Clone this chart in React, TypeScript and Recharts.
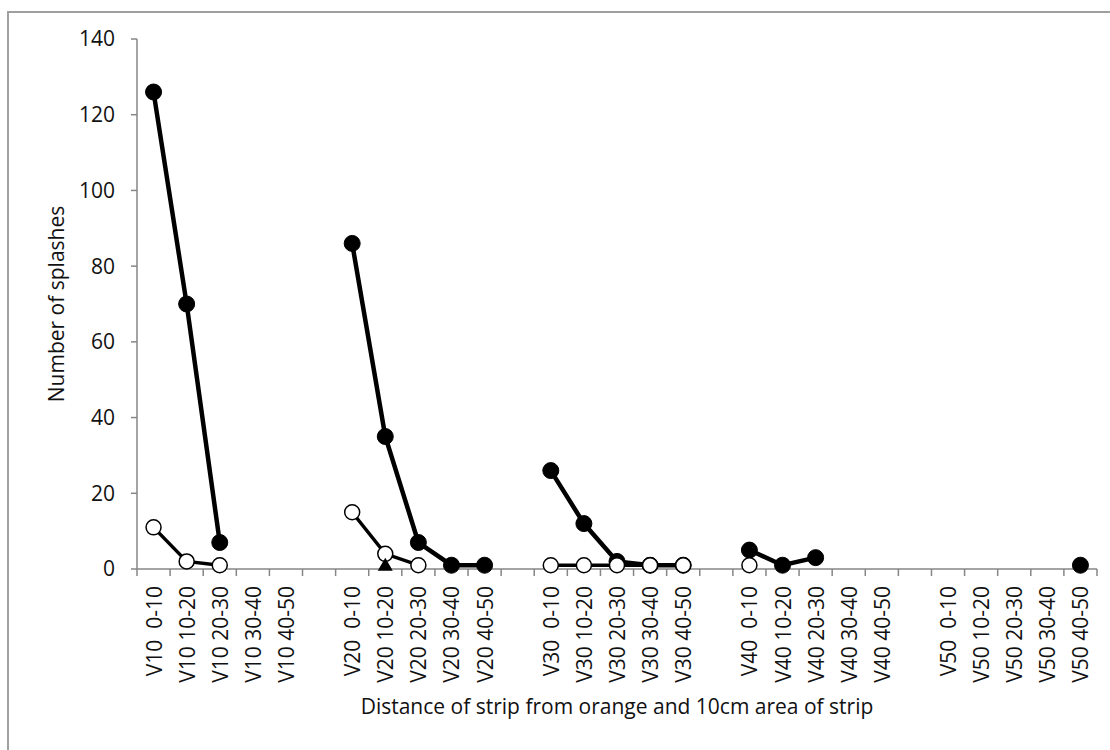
import { LineChart, Line, XAxis, YAxis } from "recharts"

const CATEGORIES = [
  "V10  0-10", "V10 10-20", "V10 20-30", "V10 30-40", "V10 40-50", "",
  "V20  0-10", "V20 10-20", "V20 20-30", "V20 30-40", "V20 40-50", "",
  "V30  0-10", "V30 10-20", "V30 20-30", "V30 30-40", "V30 40-50", "",
  "V40  0-10", "V40 10-20", "V40 20-30", "V40 30-40", "V40 40-50", "",
  "V50  0-10", "V50 10-20", "V50 20-30", "V50 30-40", "V50 40-50",
]

const FILLED = [
  126, 70, 7, null, null, null,
  86, 35, 7, 1, 1, null,
  26, 12, 2, 1, 1, null,
  5, 1, 3, null, null, null,
  null, null, null, null, 1,
]

const OPEN = [
  11, 2, 1, null, null, null,
  15, 4, 1, null, null, null,
  1, 1, 1, 1, 1, null,
  1, null, null, null, null, null,
  null, null, null, null, null,
]

const TRIANGLE = [
  null, null, null, null, null, null,
  null, 1, null, null, null, null,
  null, null, null, null, null, null,
  null, null, null, null, null, null,
  null, null, null, null, null,
]

const Y_TICKS = [0, 20, 40, 60, 80, 100, 120, 140]

const data = CATEGORIES.map((c, i) => ({
  pos: i + 0.5,
  label: c,
  filled: FILLED[i],
  open: OPEN[i],
  tri: TRIANGLE[i],
}))

// ticks at every boundary (integers) and at every category centre (halves)
const X_TICKS: number[] = []
for (let i = 0; i <= CATEGORIES.length; i++) {
  X_TICKS.push(i)
  if (i < CATEGORIES.length) X_TICKS.push(i + 0.5)
}

const FONT = "'Open Sans', sans-serif"
const FONT_SIZE = 21
const AXIS_COLOR = "#868686"
const TEXT_COLOR = "#111"

function XTick(props: any) {
  const { x, y, payload } = props
  const v = payload.value as number
  if (Number.isInteger(v)) {
    return <line x1={x} y1={y} x2={x} y2={y + 7} stroke={AXIS_COLOR} strokeWidth={1.5} />
  }
  const label = CATEGORIES[Math.floor(v)]
  const ty = y + 17
  return (
    <text
      x={x}
      y={ty}
      transform={`rotate(-90, ${x}, ${ty})`}
      textAnchor="end"
      dominantBaseline="central"
      fontFamily={FONT}
      fontSize={FONT_SIZE}
      fill={TEXT_COLOR}
      style={{ whiteSpace: "pre" }}
    >
      {label}
    </text>
  )
}

function TriangleDot(props: any) {
  const { cx, cy, value } = props
  if (value == null) return null
  const s = 7.5
  return (
    <path
      d={`M${cx},${cy - s} L${cx + s},${cy + s * 0.75} L${cx - s},${cy + s * 0.75} Z`}
      fill="#000"
    />
  )
}

function YTitle(props: any) {
  const { viewBox } = props
  const x = 56
  const y = viewBox.y + viewBox.height / 2
  return (
    <text
      x={x}
      y={y}
      transform={`rotate(-90, ${x}, ${y})`}
      textAnchor="middle"
      dominantBaseline="central"
      fontFamily={FONT}
      fontSize={FONT_SIZE}
      fill={TEXT_COLOR}
    >
      Number of splashes
    </text>
  )
}

function XTitle(props: any) {
  const { viewBox } = props
  return (
    <text
      x={viewBox.x + viewBox.width / 2}
      y={viewBox.y + 137}
      textAnchor="middle"
      dominantBaseline="central"
      fontFamily={FONT}
      fontSize={FONT_SIZE}
      fill={TEXT_COLOR}
    >
      Distance of strip from orange and 10cm area of strip
    </text>
  )
}

export default function App() {
  return (
    <div
      style={{
        position: "fixed",
        left: 0,
        top: 0,
        width: 1110,
        height: 750,
        background: "#fff",
        overflow: "hidden",
      }}
    >
      <div
        style={{
          position: "absolute",
          left: 7,
          top: 11,
          width: 1110,
          height: 750,
          borderLeft: "2px solid #a0a0a0",
          borderTop: "2px solid #a0a0a0",
        }}
      />
      <div style={{ position: "absolute", left: 0, top: 0 }}>
        <LineChart
          width={1110}
          height={750}
          data={data}
          margin={{ top: 39, right: 13, left: 0, bottom: 31 }}
        >
          <XAxis
            type="number"
            dataKey="pos"
            domain={[0, CATEGORIES.length]}
            ticks={X_TICKS}
            interval={0}
            tick={<XTick />}
            tickLine={false}
            tickSize={0}
            tickMargin={0}
            height={150}
            stroke={AXIS_COLOR}
            strokeWidth={1.5}
            label={<XTitle />}
          />
          <YAxis
            domain={[0, 140]}
            ticks={Y_TICKS}
            interval={0}
            width={137}
            tickSize={6}
            tickMargin={16}
            stroke={AXIS_COLOR}
            strokeWidth={1.5}
            tick={{ fontFamily: FONT, fontSize: FONT_SIZE, fill: TEXT_COLOR }}
            label={<YTitle />}
          />
          <Line
            dataKey="filled"
            stroke="#000"
            strokeWidth={4.5}
            dot={{ r: 8, fill: "#000", stroke: "#000", strokeWidth: 1 }}
            isAnimationActive={false}
            connectNulls={false}
          />
          <Line
            dataKey="open"
            stroke="#000"
            strokeWidth={3.5}
            dot={{ r: 7.5, fill: "#fff", stroke: "#000", strokeWidth: 1.5 }}
            isAnimationActive={false}
            connectNulls={false}
          />
          <Line
            dataKey="tri"
            stroke="none"
            dot={<TriangleDot />}
            isAnimationActive={false}
          />
        </LineChart>
      </div>
    </div>
  )
}
